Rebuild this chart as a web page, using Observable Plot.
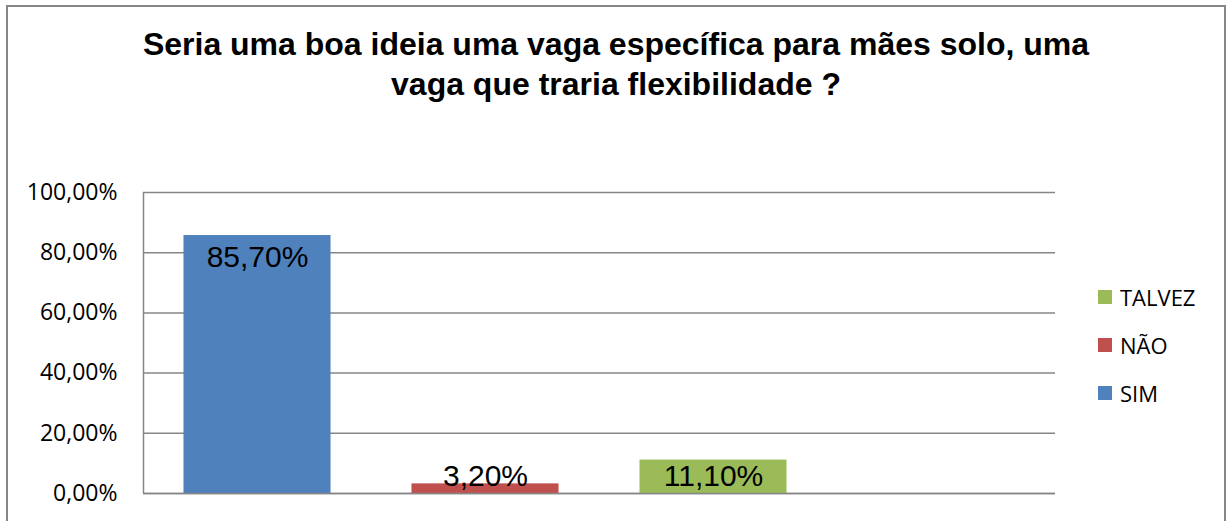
<!DOCTYPE html>
<html>
<head>
<meta charset="utf-8">
<script src="https://cdn.jsdelivr.net/npm/d3@7"></script>
<script src="https://cdn.jsdelivr.net/npm/@observablehq/plot@0.6"></script>
<style>
  html, body { margin: 0; padding: 0; background: #fff; }
  body { width: 1229px; height: 521px; overflow: hidden; position: relative; }
  #frame { position: absolute; left: 6px; top: 5px; width: 1220px; height: 600px; box-sizing: border-box; border: 2px solid #868686; }
  #title { position: absolute; left: 7px; top: 24px; width: 1218px; text-align: center;
           font-family: "Liberation Sans", Arial, sans-serif; font-weight: bold; font-size: 32px; line-height: 40px; color: #000; }
  #chart { position: absolute; left: 0; top: 150px; }
  #legend { position: absolute; left: 1098px; top: 273px; font-family: "Open Sans", sans-serif; font-size: 22px; color: #000; }
  .row { height: 48px; display: flex; align-items: center; }
  .sw { width: 14px; height: 14px; margin-right: 8px; }
</style>
</head>
<body>
<div id="frame"></div>
<div id="title"></div>
<div id="chart"></div>
<div id="legend"></div>
<script>
const titleLines = ["Seria uma boa ideia uma vaga específica para mães solo, uma", "vaga que traria flexibilidade ?"];
const categories = ["SIM", "NÃO", "TALVEZ"];
const values = [0.857, 0.032, 0.111];
const labels = ["85,70%", "3,20%", "11,10%"];
const colors = ["#4F81BD", "#C0504D", "#9BBB59"];
const yTicks = [0, 0.2, 0.4, 0.6, 0.8, 1.0];
const slotCount = 4;      // the category axis has room for four groups
const barPad = 0.1775;    // gap at each side of a bar, as a share of its slot

document.getElementById("title").innerHTML = titleLines.join("<br>");

const rows = categories.map((c, i) => ({cat: c, slot: i, value: values[i], label: labels[i], color: colors[i]}));

const W = 1229, H = 371, mT = 42, mB = 28, mL = 143, mR = 174;
const ppu = H - mT - mB; // pixels per unit of y

const fmt = d => d3.format(".2f")(d * 100).replace(".", ",") + "%";

const chart = Plot.plot({
  width: W, height: H,
  marginTop: mT, marginBottom: mB, marginLeft: mL, marginRight: mR,
  style: {fontFamily: "'Open Sans', sans-serif", fontSize: "23px", color: "#000", background: "transparent", overflow: "visible"},
  x: {domain: [0, slotCount], axis: null},
  y: {domain: [0, 1], ticks: yTicks, tickFormat: fmt, tickSize: 0, tickPadding: 26, label: null},
  marks: [
    Plot.ruleY(yTicks, {stroke: "#868686", strokeWidth: 1.5}),
    Plot.ruleX([0], {y1: 0, y2: 1, stroke: "#868686", strokeWidth: 1.5}),
    Plot.rectY(rows, {x1: d => d.slot + barPad, x2: d => d.slot + 1 - barPad, y1: 0, y2: "value", fill: "color"}),
    Plot.ruleY([0], {stroke: "#868686", strokeWidth: 1.5}),
    Plot.text(rows, {
      x: d => d.slot + 0.5,
      y: d => Math.max(d.value - 22 / ppu, 17 / ppu),
      text: "label",
      fontSize: 30,
      fontFamily: "'Liberation Sans', Arial, sans-serif",
      fill: "#000"
    })
  ]
});
document.getElementById("chart").appendChild(chart);

const legend = document.getElementById("legend");
rows.slice().reverse().forEach(r => {
  const row = document.createElement("div");
  row.className = "row";
  const sw = document.createElement("div");
  sw.className = "sw";
  sw.style.background = r.color;
  const tx = document.createElement("span");
  tx.textContent = r.cat;
  row.appendChild(sw);
  row.appendChild(tx);
  legend.appendChild(row);
});
</script>
</body>
</html>
